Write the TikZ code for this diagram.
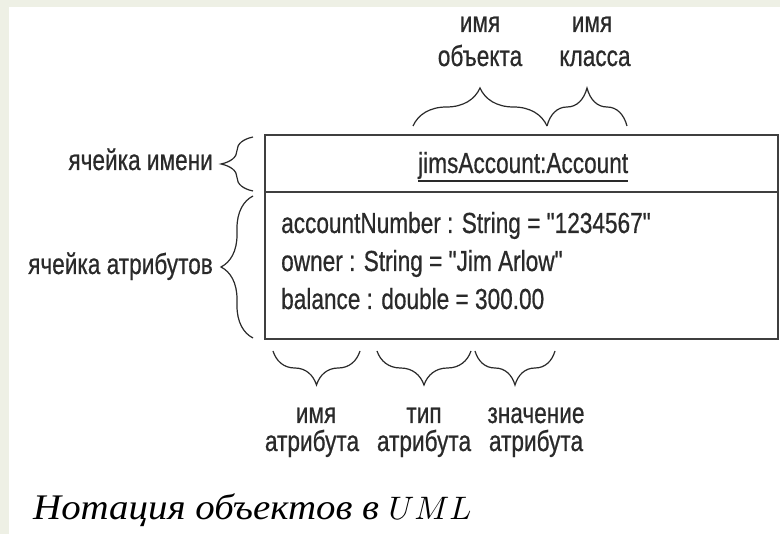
\documentclass[tikz,border=0pt]{standalone}
\usepackage{fontspec}
\usetikzlibrary{decorations.pathreplacing}
\newfontfamily\narrowsans{Liberation Sans}[FakeStretch=0.78,FakeBold=0.6]
\newfontfamily\capfont{Liberation Serif}[FakeStretch=1.08]
\definecolor{slidebg}{HTML}{EEF0E5}
\definecolor{slideline}{HTML}{C9CCC0}
\definecolor{ink}{HTML}{2A2A2A}
\begin{document}
\begin{tikzpicture}[x=1pt,y=1pt,
  lbl/.style={inner sep=0pt,text=ink,font=\narrowsans\fontsize{29}{31}\selectfont},
  bracepath/.style={draw=ink,line width=1.2pt,decorate,
    decoration={brace,amplitude=#1,aspect=0.5}},
  bracepath/.default=32pt,
  cellbox/.style={draw=ink!90,line width=1.4pt}]
\useasboundingbox (0,0) rectangle (780,-534);
\clip (0,0) rectangle (780,-534);
% slide background and its page area
\fill[slidebg] (0,0) rectangle (780,-534);
\draw[slideline,line width=1.2pt] (112,2) .. controls (60,90) and (20,190) .. (-3,295);
\fill[white] (9,-7) rectangle (780,-534);

% object box: name cell and attribute cell
\coordinate (boxTL) at (265,-135);
\coordinate (boxMR) at (778,-192);
\coordinate (boxML) at (265,-192);
\coordinate (boxBR) at (778,-339);
\draw[cellbox] (boxTL) rectangle (boxMR);
\draw[cellbox] (boxML) rectangle (boxBR);

% object name, underlined
\node[lbl,anchor=base west] (objname) at (418,-173) {jimsAccount:Account};
\draw[ink,line width=1.2pt] ([yshift=-8pt]objname.base west) -- ([yshift=-8pt]objname.base east);

% attribute values
\node[lbl,anchor=base west] (attr1) at (281,-233) {accountNumber : String = "1234567"};
\node[lbl,anchor=base west] (attr2) at (281,-271) {owner : String = "Jim Arlow"};
\node[lbl,anchor=base west] (attr3) at (281,-309) {balance : double = 300.00};

% braces left of the box
\coordinate (nb1) at (253,-191);
\coordinate (nb2) at (253,-137);
\coordinate (ab1) at (253,-338);
\coordinate (ab2) at (253,-196);
\draw[bracepath] (nb1) -- (nb2);
\draw[bracepath] (ab1) -- (ab2);
\node[lbl,anchor=base east] (namecell) at (213,-170) {ячейка имени};
\node[lbl,anchor=base east] (attrcell) at (213,-274) {ячейка атрибутов};

% braces above the object name
\coordinate (ob1) at (413,-126);
\coordinate (ob2) at (547,-126);
\coordinate (cb2) at (627,-126);
\draw[bracepath=38pt] (ob1) -- (ob2);
\draw[bracepath=38pt] (ob2) -- (cb2);
\node[lbl,anchor=base] (objlbl1) at (480,-32) {имя};
\node[lbl,anchor=base] (objlbl2) at (480,-66) {объекта};
\node[lbl,anchor=base] (clslbl1) at (592,-32) {имя};
\node[lbl,anchor=base] (clslbl2) at (595,-66) {класса};

% braces below the attributes
\coordinate (an1) at (360,-351);
\coordinate (an2) at (273,-351);
\coordinate (at1) at (471,-351);
\coordinate (at2) at (377,-351);
\coordinate (av1) at (555,-351);
\coordinate (av2) at (475,-351);
\draw[bracepath=34pt] (an1) -- (an2);
\draw[bracepath=34pt] (at1) -- (at2);
\draw[bracepath=34pt] (av1) -- (av2);
\node[lbl,anchor=base] (anlbl1) at (316,-423) {имя};
\node[lbl,anchor=base] (anlbl2) at (312,-451) {атрибута};
\node[lbl,anchor=base] (atlbl1) at (424,-423) {тип};
\node[lbl,anchor=base] (atlbl2) at (424,-451) {атрибута};
\node[lbl,anchor=base] (avlbl1) at (536,-423) {значение};
\node[lbl,anchor=base] (avlbl2) at (536,-451) {атрибута};

% caption
\node[inner sep=0pt,anchor=base west,text=black] (caption) at (33,-520)
  {\capfont\itshape\fontsize{36}{40}\selectfont Нотация объектов в \scalebox{3.25}{\fontsize{10}{12}\selectfont$UML$}};
\end{tikzpicture}
\end{document}
